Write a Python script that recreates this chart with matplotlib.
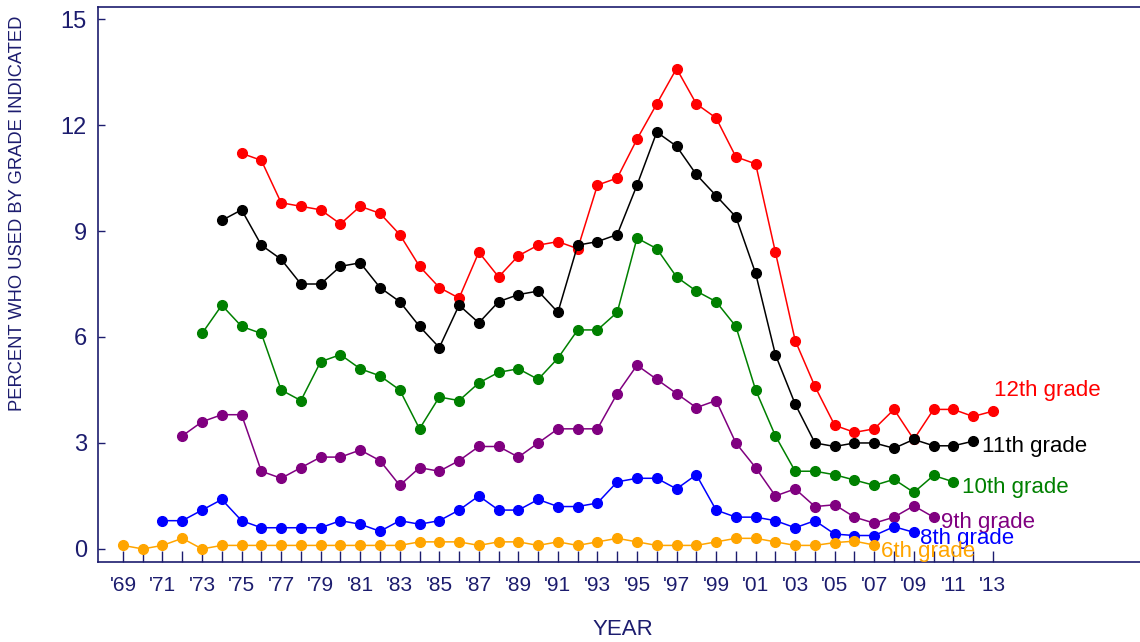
import matplotlib
matplotlib.use('Agg')
import matplotlib.pyplot as plt

plt.rcParams['font.family'] = ['Liberation Sans', 'DejaVu Sans']

navy = '#1c1c6e'

# values (percent who used, by grade)
yrs_12 = list(range(1975, 2014))
g12 = [11.2, 11.0, 9.8, 9.7, 9.6, 9.2, 9.7, 9.5, 8.9, 8.0, 7.4, 7.1, 8.4, 7.7, 8.3, 8.6,
       8.7, 8.5, 10.3, 10.5, 11.6, 12.6, 13.6, 12.6, 12.2, 11.1, 10.9, 8.4, 5.9, 4.6, 3.5,
       3.3, 3.4, 3.95, 3.1, 3.95, 3.95, 3.75, 3.9]

yrs_11 = list(range(1974, 2013))
g11 = [9.3, 9.6, 8.6, 8.2, 7.5, 7.5, 8.0, 8.1, 7.4, 7.0, 6.3, 5.7, 6.9, 6.4, 7.0, 7.2,
       7.3, 6.7, 8.6, 8.7, 8.9, 10.3, 11.8, 11.4, 10.6, 10.0, 9.4, 7.8, 5.5, 4.1, 3.0, 2.9,
       3.0, 3.0, 2.85, 3.1, 2.92, 2.92, 3.05]

yrs_10 = list(range(1973, 2012))
g10 = [6.1, 6.9, 6.3, 6.1, 4.5, 4.2, 5.3, 5.5, 5.1, 4.9, 4.5, 3.4, 4.3, 4.2, 4.7, 5.0,
       5.1, 4.8, 5.4, 6.2, 6.2, 6.7, 8.8, 8.5, 7.7, 7.3, 7.0, 6.3, 4.5, 3.2, 2.2, 2.2, 2.1,
       1.95, 1.8, 1.97, 1.6, 2.08, 1.9]

yrs_9 = list(range(1972, 2011))
g9 = [3.2, 3.6, 3.8, 3.8, 2.2, 2.0, 2.3, 2.6, 2.6, 2.8, 2.5, 1.8, 2.3, 2.2, 2.5, 2.9,
      2.9, 2.6, 3.0, 3.4, 3.4, 3.4, 4.4, 5.2, 4.8, 4.4, 4.0, 4.2, 3.0, 2.3, 1.5, 1.7, 1.2,
      1.25, 0.9, 0.73, 0.9, 1.22, 0.9]

yrs_8 = list(range(1971, 2010))
g8 = [0.8, 0.8, 1.1, 1.4, 0.8, 0.6, 0.6, 0.6, 0.6, 0.8, 0.7, 0.5, 0.8, 0.7, 0.8, 1.1,
      1.5, 1.1, 1.1, 1.4, 1.2, 1.2, 1.3, 1.9, 2.0, 2.0, 1.7, 2.1, 1.1, 0.9, 0.9, 0.8, 0.6,
      0.8, 0.42, 0.38, 0.38, 0.63, 0.47]

yrs_6 = list(range(1969, 2008))
g6 = [0.1, 0.0, 0.1, 0.3, 0.0, 0.1, 0.1, 0.1, 0.1, 0.1, 0.1, 0.1, 0.1, 0.1, 0.1, 0.2,
      0.2, 0.2, 0.1, 0.2, 0.2, 0.1, 0.2, 0.1, 0.2, 0.3, 0.2, 0.1, 0.1, 0.1, 0.2, 0.3, 0.3,
      0.2, 0.1, 0.1, 0.18, 0.22, 0.11]

series = [
    (yrs_12, g12, 'red', '12th grade', 2013.05, 4.48),
    (yrs_11, g11, 'black', '11th grade', 2012.45, 2.9),
    (yrs_10, g10, 'green', '10th grade', 2011.45, 1.73),
    (yrs_9, g9, 'purple', '9th grade', 2010.35, 0.74),
    (yrs_8, g8, 'blue', '8th grade', 2009.3, 0.3),
    (yrs_6, g6, 'orange', '6th grade', 2007.35, -0.08),
]

tick_years = list(range(1969, 2014))
tick_labels = ["'%02d" % (y % 100) if y % 2 == 1 else '' for y in tick_years]

fig = plt.figure(figsize=(11.4, 6.42), dpi=100)
ax = fig.add_axes([0.086, 0.1246, 0.914, 0.8644])

for xs, ys, col, lab, lx, ly in series:
    ax.plot(xs, ys, '-', color=col, lw=1.1, marker='o', ms=7, mec=col, mfc=col)
    ax.text(lx, ly, lab, color=col, fontsize=16, ha='left', va='center')

ax.set_xlim(1967.74, 2020.44)
ax.set_ylim(-0.37, 15.34)
ax.set_yticks([0, 3, 6, 9, 12, 15])
ax.set_xticks(tick_years)
ax.set_xticklabels(tick_labels)

ax.spines['right'].set_visible(False)
for s in ['left', 'bottom', 'top']:
    ax.spines[s].set_color(navy)
    ax.spines[s].set_linewidth(1.2)

ax.tick_params(axis='x', direction='in', length=8, width=1, color=navy,
               labelcolor=navy, labelsize=15, pad=10)
ax.tick_params(axis='y', direction='in', length=5, width=1, color=navy,
               labelcolor=navy, labelsize=17, pad=8)

ax.set_xlabel('YEAR', color=navy, fontsize=16)
ax.xaxis.set_label_coords(0.504, -0.103)
ax.set_ylabel('PERCENT WHO USED BY GRADE INDICATED', color=navy, fontsize=13.2)
ax.yaxis.set_label_coords(-0.069, 0.628)

fig.savefig('out.png', dpi=100)
